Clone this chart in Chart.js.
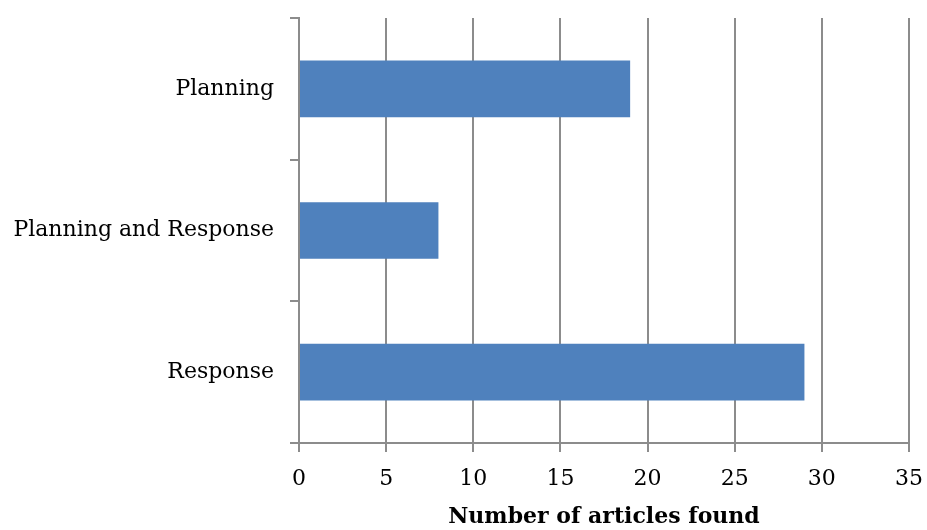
<!DOCTYPE html>
<html>
<head>
<meta charset="utf-8">
<script src="https://cdn.jsdelivr.net/npm/chart.js@4/dist/chart.umd.min.js"></script>
<style>
  html, body { margin: 0; padding: 0; background: #fff; }
  #wrap { width: 927px; height: 530px; }
</style>
</head>
<body>
<div id="wrap"><canvas id="articlesChart" width="927" height="530"></canvas></div>
<script>
// categories and counts
const categories = ["Planning", "Planning and Response", "Response"];
const articleCounts = [19, 8, 29];
const xTicks = [0, 5, 10, 15, 20, 25, 30, 35];
const xTitle = "Number of articles found";

const serif = "'DejaVu Serif', 'Liberation Serif', serif";
const gridGray = "#8c8c8c";

var ctx = document.getElementById("articlesChart").getContext("2d");

var myChart = new Chart(ctx, {
  type: 'bar',
  data: {
    labels: categories,
    datasets: [{
      label: xTitle,
      data: articleCounts,
      backgroundColor: "#4f81bd",
      borderWidth: 0,
      barPercentage: 0.4,
      categoryPercentage: 1.0
    }]
  },
  options: {
    indexAxis: 'y',
    responsive: false,
    animation: false,
    layout: { padding: { top: 18, right: 18, left: 0, bottom: 0 } },
    plugins: {
      legend: { display: false },
      tooltip: { enabled: false }
    },
    scales: {
      x: {
        min: 0,
        max: 35,
        afterBuildTicks: function (scale) {
          scale.ticks = xTicks.map(v => ({ value: v }));
        },
        grid: {
          color: gridGray,
          lineWidth: 2,
          tickLength: 9,
          drawTicks: true
        },
        border: { color: gridGray, width: 2 },
        ticks: {
          color: "#000",
          font: { family: serif, size: 22 },
          padding: 14
        },
        title: {
          display: true,
          text: xTitle,
          color: "#000",
          font: { family: serif, size: 22, weight: 'bold' },
          padding: { top: 6, bottom: 0 }
        },
        afterFit: function (scale) {
          scale.height = 87;
          scale.paddingLeft = 0;
          scale.paddingRight = 0;
        }
      },
      y: {
        offset: true,
        grid: {
          offset: true,
          drawOnChartArea: false,
          drawTicks: true,
          tickLength: 9,
          color: gridGray,
          lineWidth: 2
        },
        border: { color: gridGray, width: 2 },
        ticks: {
          color: "#000",
          font: { family: serif, size: 22 },
          padding: 16
        },
        afterFit: function (scale) {
          scale.width = 299;
          scale.paddingTop = 0;
          scale.paddingBottom = 0;
        }
      }
    }
  }
});
</script>
</body>
</html>
